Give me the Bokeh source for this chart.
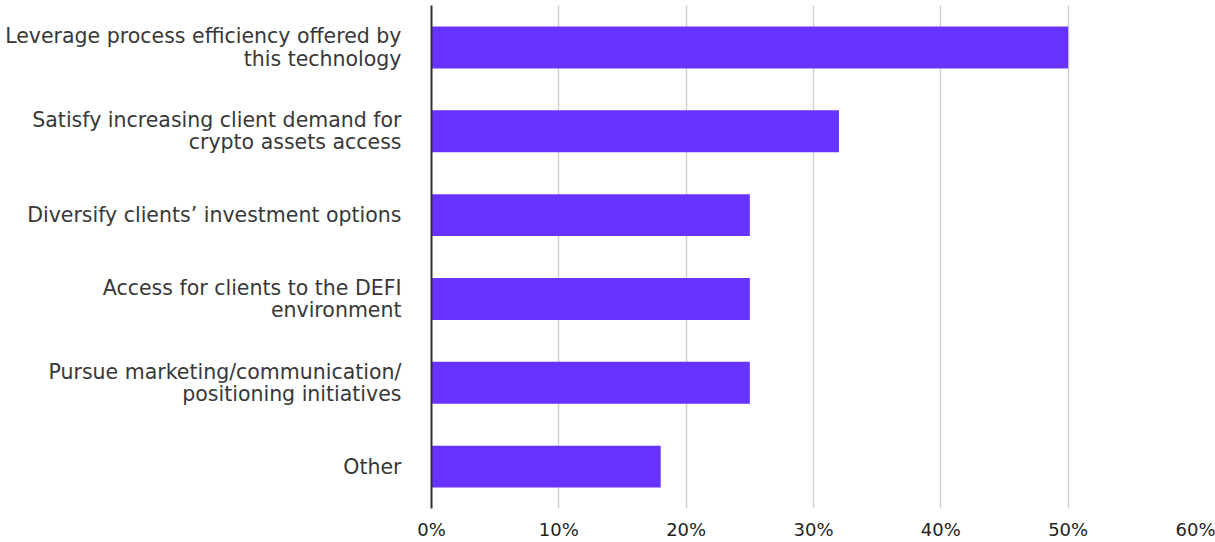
from bokeh.plotting import figure
from bokeh.models import ColumnDataSource, FixedTicker, CustomJSTickFormatter
from bokeh.embed import file_html
from bokeh.resources import INLINE

categories = [
    "Leverage process efficiency offered by\nthis technology",
    "Satisfy increasing client demand for\ncrypto assets access",
    "Diversify clients\u2019 investment options",
    "Access for clients to the DEFI\nenvironment",
    "Pursue marketing/communication/\npositioning initiatives",
    "Other",
]
values = [50, 32, 25, 25, 25, 18]
x_ticks = [0, 10, 20, 30, 40, 50, 60]

FONT = "DejaVu Sans"
source = ColumnDataSource(dict(cat=categories, val=values))

p = figure(
    y_range=list(reversed(categories)),
    x_range=(0, 60),
    width=1215, height=542,
    output_backend="svg", toolbar_location=None,
    min_border_left=431, min_border_right=20,
    min_border_top=5, min_border_bottom=26,
)
p.hbar(y="cat", right="val", left=0, height=0.5, source=source,
       color="#6633FF", line_color=None)

p.outline_line_color = None
p.ygrid.grid_line_color = None
p.xgrid.grid_line_color = "#d0d0d0"
p.xgrid.grid_line_width = 1.5
p.xgrid.ticker = FixedTicker(ticks=x_ticks)

p.xaxis.ticker = FixedTicker(ticks=x_ticks)
p.xaxis.formatter = CustomJSTickFormatter(code="return tick + '%';")
p.xaxis.axis_line_color = None
p.xaxis.major_tick_line_color = None
p.xaxis.minor_tick_line_color = None
p.xaxis.major_label_standoff = 4
p.xaxis.major_label_text_font = FONT
p.xaxis.major_label_text_font_size = "18px"
p.xaxis.major_label_text_color = "#222222"

p.yaxis.axis_line_color = "#333333"
p.yaxis.axis_line_width = 2
p.yaxis.major_tick_line_color = None
p.yaxis.minor_tick_line_color = None
p.yaxis.major_label_standoff = 24
p.yaxis.major_label_text_font = FONT
p.yaxis.major_label_text_font_size = "20.5px"
p.yaxis.major_label_text_color = "#383838"
p.yaxis.major_label_text_align = "right"
p.yaxis.major_label_text_line_height = 0.93

open("out.html", "w").write(file_html(p, INLINE))
